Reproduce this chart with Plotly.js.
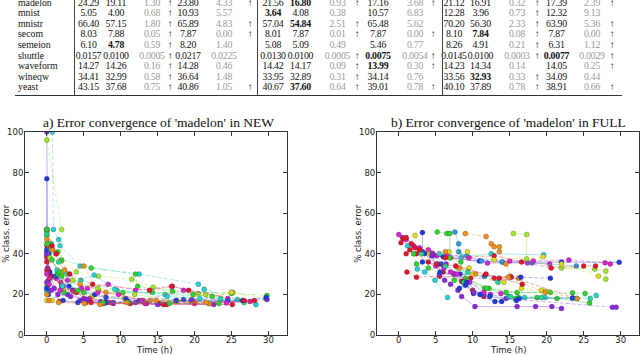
<!DOCTYPE html>
<html>
<head>
<meta charset="utf-8">
<script src="https://cdn.plot.ly/plotly-3.0.1.min.js"></script>
<style>
  html, body { margin: 0; padding: 0; background: #fff; }
  #wrap { position: relative; width: 640px; height: 355px; overflow: hidden; }
  #chart { position: absolute; left: 0; top: 0; width: 640px; height: 355px; }
  #tbl { position: absolute; left: 0; top: 0; width: 640px; height: 100px;
         font-family: 'Liberation Serif', 'Times New Roman', serif; font-size: 9.8px; color: #111;
         letter-spacing: -0.25px; }
  #tbl span { position: absolute; white-space: nowrap; transform: translate(-50%, -50%); line-height: 1; }
  #tbl span.name { transform: translate(0, -50%); letter-spacing: 0; }
  #tbl span.grey { color: #9a9a9a; }
  #tbl span.b { font-weight: bold; }
  #tbl .vl { position: absolute; top: 0; width: 1px; height: 95px; background: #444; }
  #tbl .rule { position: absolute; left: 15px; width: 607px; top: 94.5px; height: 1.5px; background: #333; }
</style>
</head>
<body>
<div id="wrap">
  <div id="chart"></div>
  <div id="tbl"></div>
</div>
<script>
// TABLE DATA
var rowNames = ['madelon', 'mnist', 'mnistr', 'secom', 'semeion', 'shuttle', 'waveform', 'wineqw', 'yeast'];
var tableValues = [
  ['24.29','19.11','1.30','23.80','4.33', '21.56','16.80','0.93','17.16','3.68', '21.12','16.91','0.32','17.39','2.39'],
  ['5.05','4.00','0.68','10.93','5.57', '3.64','4.08','0.38','10.57','6.83', '12.28','3.96','0.73','12.32','9.13'],
  ['66.40','57.15','1.80','65.89','4.83', '57.04','54.84','2.51','65.48','5.62', '70.20','56.30','2.33','63.90','5.36'],
  ['8.03','7.88','0.05','7.87','0.00', '8.01','7.87','0.01','7.87','0.00', '8.10','7.84','0.08','7.87','0.00'],
  ['6.10','4.78','0.59','8.20','1.40', '5.08','5.09','0.49','5.46','0.77', '8.26','4.91','0.21','6.31','1.12'],
  ['0.0157','0.0100','0.0005','0.0217','0.0225', '0.0130','0.0100','0.0005','0.0075','0.0054', '0.0145','0.0100','0.0003','0.0077','0.0029'],
  ['14.27','14.26','0.16','14.28','0.46', '14.42','14.17','0.09','13.99','0.30', '14.23','14.34','0.14','14.05','0.25'],
  ['34.41','32.99','0.58','36.64','1.48', '33.95','32.89','0.31','34.14','0.76', '33.56','32.93','0.33','34.09','0.44'],
  ['43.15','37.68','0.75','40.86','1.05', '40.67','37.60','0.64','39.01','0.78', '40.10','37.89','0.78','38.91','0.66']
];
// arrow after each grey column (2,4,7,9,12,14)
var tableArrows = [
  [1,1,1,1,1,1],
  [1,0,0,0,1,0],
  [1,1,1,0,1,1],
  [1,1,1,1,1,1],
  [1,0,0,0,1,1],
  [1,0,1,1,1,1],
  [1,0,1,1,0,1],
  [1,0,1,0,1,0],
  [1,1,1,1,1,1]
];
var tableBold = [[6], [5], [6], [11], [1], [8, 13], [8], [11], [6]];

// CONVERGENCE DATA (time in h, % class. error)
var newTimes = [
  [0,0,0.1,0.6,2.2,4.5,8,13.5,22.6],
  [0,0,0.3,1.5,3.5,8,12.5,19.5,26.7],
  [0.75,0.9,1.6,1.8,4.5,12.5,20.5,21.3,28.3],
  [0,2,2,4,7,11.5,14.4,20.5,25.2],
  [0,0.5,1.2,2,5,7,14,20,25],
  [0,1.5,2,6,12,12.3,17,25,29.8],
  [0,0.2,1.3,2.8,5.5,8.3,12,17,24.5],
  [0,0,0.5,1.7,5.3,9,15.8,16.2,25.1],
  [0,0.1,0.7,2.3,6.2,10.5,19.8,25,29.6],
  [0,0.2,1,2.8,5,7.3,12,22,29.8],
  [0,0.4,1.1,3,6.5,10.7,18.5,24.5],
  [0,0.6,1.6,2.7,4.6,9.5,16,23.5,26.7],
  [0,0.4,1.9,3.6,5.8,8.5,13.3,20,27.5],
  [0,0.1,2,4,6,7.7,11.3,15.2,28.1],
  [0,1.5,2,2.3,5,10.3,14.3,19.8,22.4],
  [0,0.8,2.4,4.5,8,13,17.5,22],
  [0,1.4,2.1,6.4,9.2,16.3,20.7,25.8],
  [0,0.6,1.5,3.2,5.4,9,15,19.6],
  [0,0.3,1.8,4.7,6.9,9.7,12.9,18.5,24.3],
  [0,0.4,1.9,3.5,6.9,11.9,17.6,21.5],
  [0,0.2,2.2,4.2,8,11,17.5,26.5,29.7],
  [0,0.7,1.3,3.1,6.2,13.9,16.9,19.2,26.7],
  [0,0.1,0.7,1.7,4.2,7.6,11,16.6,23.3],
  [0,0.3,1.6,5.1,7.2,10.8,14.8,21.6]
];
var newErrors = [
  [100,41,33,29,24,17,16,15.5,15],
  [77,52,40,31,22,18.5,17,16.5,16.5],
  [100,52,47,44,34,30,25,22.5,15],
  [96,52,36.5,31,29,27.5,23.5,20.5,21],
  [51,43,40,30,34,22,17,16.5,21],
  [49,41,37,33,30,24,21.5,20.5,19.5],
  [38,32,28,27,23,25,22,24,18],
  [44,39,29,16.5,16,15.5,15,15,15],
  [17,24,17,22,19,18,16,21,18],
  [40,27,23,20,18,16.5,16,15.5,17.5],
  [42,31,29,24,20,18,17.5,17],
  [50,45,36,30,27,22,20,18,16],
  [32,28,26,21.5,18,16,15.5,15.5,16.5],
  [36,31,24,21,16,15.5,15.5,15.5,17],
  [24,30,29,21,21,21,21,20,19],
  [47,42,32,25,21,17,16.5,15.5],
  [22,32,24,29.5,22.5,19,18,17.5],
  [26,22,20,19,17.5,16,15,17.5],
  [30,25,22,23,21,20,17,22,15.8],
  [45,38,31,27,23,20,17,20],
  [23,20,17,16,16,16.5,17,17,18.5],
  [52,44,40,30,25,22,24,22,17],
  [52,45,37,31,22,16,16,15.5,15.5],
  [20,17,16,15.5,15,16,17,16]
];
var fullTimes = [
  [0,0.5,1,2.8,5.1,7,12,17.4,20.4],
  [0.3,0.6,1.5,2.4,4,6,8.5,10,11.5],
  [3.2,3.2,3.5,4.5,6,10.9,14,22,29.8],
  [5.2,6.5,6.9,6.9,8.4,9,12.2,16,20.5],
  [7.6,8.1,8.1,9.2,11.2,14,18,24],
  [9,11.8,12.5,12.9,13.6,13.6,14.5,15.1,16.2],
  [15.5,17.3,17.3,22,26.5,28,28],
  [1.2,4.1,5.5,8.5,12.5,19.6],
  [2,4,6.5,9.5,15,18.2,23,27.9,28.6],
  [1,2.2,4.6,6.3,12.9,16.6,20.6,25,26.6],
  [2.2,4.2,6.8,9.3,12.9,19.5,22,27],
  [1.1,2.4,5.5,9.7,12.9,15.2,24.1],
  [2.5,3.5,4.9,6.6],
  [4.5,5.5,6.2,7,8,8.5,10.3,16,18.5,20.7,22],
  [3.2,5.3,5.6,7.5,8.7,10.1,13,13.9],
  [2,2.4,4,7.5,9.1,11.6,14.5,23.5,25.2],
  [4.5,6.4,7.5,8.9,10.1,11.5,12.4,14.5,28.9,29.4],
  [9.1,11.1,14.9,17,19.8,23.5,26.7],
  [5.7,8.3,11.6,16.5,20.5],
  [8.8,9.3,11.9,15.8,16.2,18.7,21.4,25.8],
  [8,9.5,10,14.2,16.6,19.3,19.9],
  [5,6.1,7,7.9,9.6,11.5,13.8],
  [6.3,8.2,10.4,14.8,19.8,24.1],
  [8.2,9,9.2,11,12.3,15.9,16.3,23.5],
  [3.1,6.3,9.3,13.4,15.1,19.3,25.9],
  [1,1.7,2.8,5.1,7.7,11.8,13.6,16.7]
];
var fullErrors = [
  [49.5,48,47,43,39,38,35.5,35.5,35],
  [45.5,47.5,42,40,36,31,26.5,22,19],
  [50.5,41,40,39,38.5,36.5,36,36,35.8],
  [50.7,50,50,38,36,28,23,21,21],
  [50.7,45,41,39,36.4,36,35.5,34],
  [50,48.5,45,43.5,43.5,41,35,29,28],
  [50,49.5,37.5,33,32.5,31.5,27.5],
  [44,41,40,38.5,40,39.5],
  [44,42,40,38,36.5,36.5,37,35.6,35],
  [40,43,40,38,39,36,33,34,34],
  [49,40,41,41,37,38.5,35,29],
  [31,28.5,29,28,28,28.5,18],
  [32.5,31,27,18.5],
  [39,30,27,25,22,19,14,14,14,14,13],
  [36,35,31,30,26,20.5,16.5,16.5],
  [40,35,33,27,26,23,21,20.8,20.5],
  [40,35,30,26,21,20,20,18,13.7,13.7],
  [25,20,19,18.5,18.5,18,19.5],
  [35,30,29,28.5,28],
  [26,27,23,18,18.5,18.5,18,15.8],
  [33,33,30,26,23,22,21.5],
  [34,33,31,30,26,21,20.5],
  [41,33,30,28.5,21,18],
  [23,24.5,26,20,19,17,18,18.3],
  [40,34,31,26,19,18.5,18],
  [48,45,42,35,34,30,28,25]
];

// STYLES
var palette = {red:'#e4162e', orange:'#f0901a', yellow:'#dede1e', lime:'#a0e62a', green:'#2ed42e', teal:'#22d89a',
               cyan:'#26d0d8', sky:'#2a9ae6', blue:'#2038e0', purple:'#8a2ae0', magenta:'#dc22d0', pink:'#e8207a'};
var newColors = ['purple','blue','cyan','lime','orange','green','magenta','red','yellow','purple','blue','teal',
                 'pink','red','green','orange','cyan','purple','magenta','lime','blue','red','green','orange'];
var newDashes = ['solid','solid','dash','dash','dashdot','dashdot','dash','solid','dash','dash','dashdot','dash',
                 'solid','dash','solid','solid','solid','dashdot','dashdot','solid','dash','dashdot','dash','dash'];
var fullColors = ['magenta','red','blue','green','sky','orange','lime','cyan','magenta','red','yellow','red','cyan',
                  'purple','blue','green','purple','cyan','blue','green','yellow','magenta','orange','blue','teal','red'];
var fullDashes = ['solid','dash','solid','solid','solid','dash','solid','solid','dash','dash','dash','dash','solid',
                  'solid','solid','dash','dash','dash','dash','solid','dash','solid','dash','solid','dash','solid'];
var dashStyle = {solid: 'solid', dash: '4px,2px', dashdot: '5px,2px,1px,2px'};

function fade(hex, a) {
  var r = parseInt(hex.substr(1,2),16), g = parseInt(hex.substr(3,2),16), b = parseInt(hex.substr(5,2),16);
  return 'rgba(' + r + ',' + g + ',' + b + ',' + a + ')';
}

// BUILD THE TABLE
var tbl = document.getElementById('tbl');
var colCenters = [88.5,116,152,188,224, 273,300.5,337.5,378,415, 454,480.5,517,556.5,592];
var greyCols = [2,4,7,9,12,14];
var arrowX = [170,250,357,433,537,612];
var rowTop = 2.5, rowStep = 10.6;
rowNames.forEach(function(name, r) {
  var y = rowTop + r * rowStep;
  var s = document.createElement('span');
  s.className = 'name'; s.textContent = name; s.style.left = '18px'; s.style.top = y + 'px';
  tbl.appendChild(s);
  tableValues[r].forEach(function(v, c) {
    var e = document.createElement('span');
    e.textContent = v;
    var cls = [];
    if (greyCols.indexOf(c) >= 0) cls.push('grey');
    if (tableBold[r].indexOf(c) >= 0) cls.push('b');
    e.className = cls.join(' ');
    e.style.left = colCenters[c] + 'px'; e.style.top = y + 'px';
    tbl.appendChild(e);
  });
  tableArrows[r].forEach(function(on, k) {
    if (!on) return;
    var a = document.createElement('span');
    a.textContent = '\u2191';
    a.style.left = arrowX[k] + 'px'; a.style.top = y + 'px';
    tbl.appendChild(a);
  });
});
[73.5, 256.5, 441.5].forEach(function(x) {
  var l = document.createElement('div'); l.className = 'vl'; l.style.left = x + 'px'; tbl.appendChild(l);
});
var rule = document.createElement('div'); rule.className = 'rule'; tbl.appendChild(rule);

// CONVERGENCE PLOTS
CHART = document.getElementById('chart');

var data = [];
function addRuns(times, errors, colors, dashes, xa, ya) {
  times.forEach(function(t, i) {
    var c = palette[colors[i]];
    data.push({
      x: t, y: errors[i], xaxis: xa, yaxis: ya,
      type: 'scatter', mode: 'lines+markers', showlegend: false, hoverinfo: 'x+y',
      line: {color: fade(c, 0.38), width: 1, dash: dashStyle[dashes[i]]},
      marker: {color: c, size: 5, line: {color: 'rgba(40,40,40,0.5)', width: 0.5}}
    });
  });
}
addRuns(newTimes, newErrors, newColors, newDashes, 'x', 'y');
addRuns(fullTimes, fullErrors, fullColors, fullDashes, 'x2', 'y2');

var tickFont = {family: 'DejaVu Sans', size: 8.5, color: '#222'};
function xAxis(dom, anchor) {
  return {domain: dom, anchor: anchor, range: [-2.95, 32.55], tickvals: [0,5,10,15,20,25,30],
          ticks: 'inside', ticklen: 4, tickcolor: '#333', mirror: 'ticks', showline: true, linecolor: '#333',
          linewidth: 1, showgrid: false, zeroline: false, tickfont: tickFont, automargin: false,
          ticklabelstandoff: -3};
}
function yAxis(anchor) {
  return {domain: [0.0563, 0.6282], anchor: anchor, range: [0, 100], tickvals: [0,20,40,60,80,100],
          ticks: 'inside', ticklen: 4, tickcolor: '#333', mirror: 'ticks', showline: true, linecolor: '#333',
          linewidth: 1, showgrid: false, zeroline: false, tickfont: tickFont, automargin: false,
          ticklabelstandoff: -1};
}

var titleFont = {family: 'Liberation Serif', size: 13.5, color: '#111'};
var labelFont = {family: 'DejaVu Sans', size: 8.5, color: '#222'};
var layout = {
  width: 640, height: 355,
  margin: {l: 0, r: 0, t: 0, b: 0},
  paper_bgcolor: '#fff', plot_bgcolor: '#fff',
  xaxis: xAxis([0.0391, 0.4489], 'y'),
  yaxis: yAxis('x'),
  xaxis2: xAxis([0.589, 0.9992], 'y2'),
  yaxis2: yAxis('x2'),
  annotations: [
    {text: "a) Error convergence of 'madelon' in NEW", xref: 'paper', yref: 'paper', x: 0.248, y: 0.656,
     showarrow: false, font: titleFont, xanchor: 'center', yanchor: 'middle'},
    {text: "b) Error convergence of 'madelon' in FULL", xref: 'paper', yref: 'paper', x: 0.794, y: 0.656,
     showarrow: false, font: titleFont, xanchor: 'center', yanchor: 'middle'},
    {text: 'Time (h)', xref: 'paper', yref: 'paper', x: 0.242, y: 0.014,
     showarrow: false, font: labelFont, xanchor: 'center', yanchor: 'middle'},
    {text: 'Time (h)', xref: 'paper', yref: 'paper', x: 0.794, y: 0.014,
     showarrow: false, font: labelFont, xanchor: 'center', yanchor: 'middle'},
    {text: '% class. error', xref: 'paper', yref: 'paper', x: 0.008, y: 0.342, textangle: -90,
     showarrow: false, font: labelFont, xanchor: 'center', yanchor: 'middle'},
    {text: '% class. error', xref: 'paper', yref: 'paper', x: 0.558, y: 0.342, textangle: -90,
     showarrow: false, font: labelFont, xanchor: 'center', yanchor: 'middle'}
  ]
};

Plotly.newPlot(CHART, data, layout, {staticPlot: true});
</script>
</body>
</html>
